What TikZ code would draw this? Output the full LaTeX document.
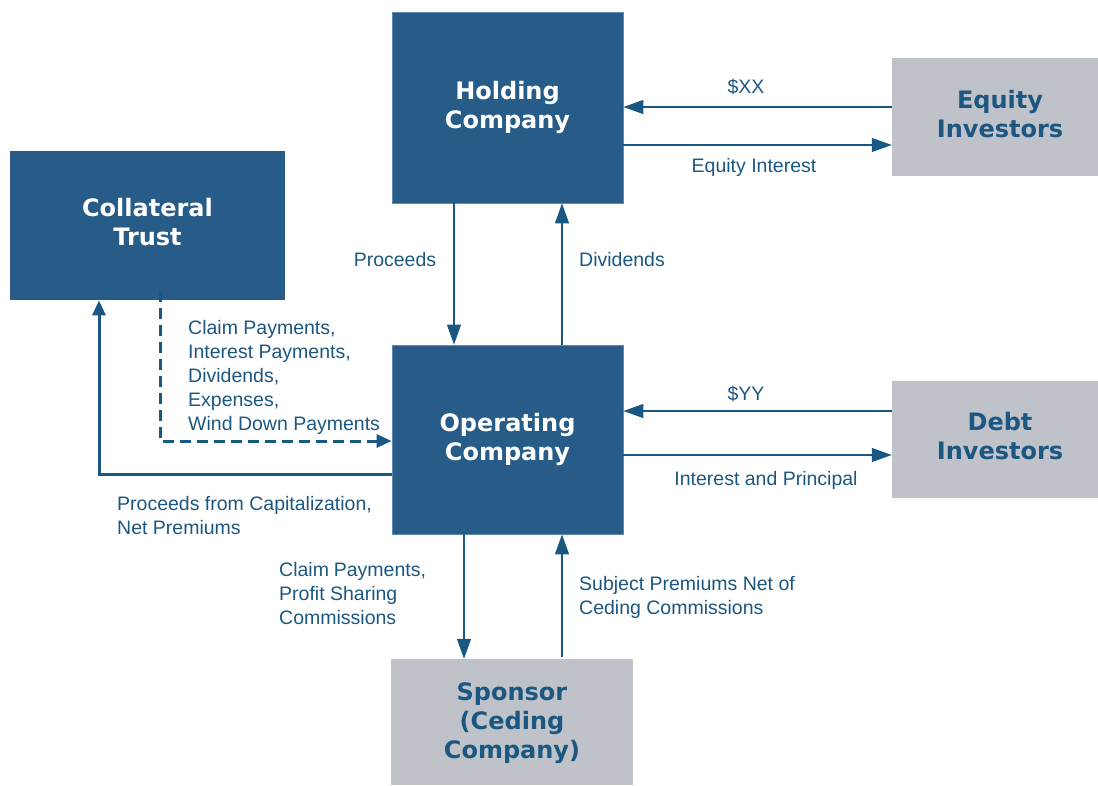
\documentclass[tikz,border=0pt]{standalone}
\usepackage{fontspec}
\setmainfont{Liberation Sans}
\newfontfamily\boxfont{DejaVu Sans}
\usetikzlibrary{arrows.meta}
\definecolor{boxblue}{RGB}{38,92,135}
\definecolor{boxedge}{RGB}{95,138,176}
\definecolor{boxgray}{RGB}{191,194,201}
\definecolor{linkblue}{RGB}{24,88,130}
\definecolor{txtblue}{RGB}{27,87,129}
\tikzset{
  boxtext/.style={font=\boxfont\bfseries\fontsize{24}{29}\selectfont, align=center, inner sep=0pt, text depth=0pt},
  bluebox/.style={rectangle, fill=boxblue, draw=boxedge, line width=0.8pt, text=white, boxtext},
  graybox/.style={rectangle, fill=boxgray, draw=none, text=txtblue, boxtext},
  lbl/.style={text=txtblue, font=\fontsize{19.5}{24}\selectfont, align=left, inner sep=0pt},
  arr/.style={draw=linkblue, line width=1.2pt, -{Triangle[length=20pt,width=14pt]}},
  thickarr/.style={draw=linkblue, line width=3pt, -{Triangle[length=15pt,width=13pt]}},
}
\begin{document}
\begin{tikzpicture}[x=1pt,y=1pt]
\useasboundingbox (0,0) rectangle (1098,-785);
% boxes
\node[bluebox, minimum width=231pt, minimum height=191pt] (hc) at (507.5,-107.5) {};
\node[graybox, minimum width=206pt, minimum height=118pt] (eq) at (995,-117) {};
\node[bluebox, draw=none, minimum width=275pt, minimum height=149pt] (ct) at (147.5,-225.5) {};
\node[bluebox, minimum width=231pt, minimum height=189pt] (oc) at (507.5,-439.5) {};
\node[graybox, minimum width=206pt, minimum height=117pt] (db) at (995,-439.5) {};
\node[graybox, minimum width=242pt, minimum height=126pt] (sp) at (512,-722) {};
% box texts
\node[boxtext, text=white] (hct) at (507.5,-105) {Holding\\Company};
\node[boxtext, text=txtblue] (eqt) at (1000,-114) {Equity\\Investors};
\node[boxtext, text=white] (ctt) at (147.5,-222) {Collateral\\Trust};
\node[boxtext, text=white] (oct) at (507.5,-437) {Operating\\Company};
\node[boxtext, text=txtblue] (dbt) at (1000,-436) {Debt\\Investors};
\node[boxtext, text=txtblue] (spt) at (512,-721) {Sponsor\\(Ceding\\Company)};
% connectors
\draw[arr] (eq.west |- 0,-107) -- (hc.east |- 0,-107);
\draw[arr] (hc.east |- 0,-145) -- (eq.west |- 0,-145);
\draw[arr] (hc.south -| 454,0) -- (oc.north -| 454,0);
\draw[arr] (oc.north -| 562,0) -- (hc.south -| 562,0);
\draw[arr] (db.west |- 0,-411) -- (oc.east |- 0,-411);
\draw[arr] (oc.east |- 0,-455) -- (db.west |- 0,-455);
\draw[arr] (oc.south -| 464,0) -- (sp.north -| 464,0);
\draw[arr] (sp.north -| 562,0) ++(0,2) -- (oc.south -| 562,0);
\draw[thickarr] (oc.west |- 0,-474) -- (99,-474) -- (ct.south -| 99,0);
\draw[thickarr, dash pattern=on 11pt off 6pt] (ct.south -| 160,0) ++(0,9) -- (160,-441) -- (oc.west |- 0,-441);
% labels
\node[lbl] (lxx) at (746,-87) {\$XX};
\node[lbl] (lei) at (754,-167) {Equity Interest};
\node[lbl] (lpr) at (395,-260) {Proceeds};
\node[lbl] (ldv) at (622,-260) {Dividends};
\node[lbl] (lyy) at (746,-394) {\$YY};
\node[lbl] (lip) at (766,-480) {Interest and Principal};
\node[lbl, anchor=west] (lcl) at (188,-377) {Claim Payments,\\Interest Payments,\\Dividends,\\Expenses,\\Wind Down Payments};
\node[lbl, anchor=west] (lpc) at (117,-516) {Proceeds from Capitalization,\\Net Premiums};
\node[lbl, anchor=west] (lcp) at (279,-594) {Claim\hspace{0.25em}Payments,\\Profit Sharing\\Commissions};
\node[lbl, anchor=west] (lsp) at (579,-597) {Subject Premiums Net of\\Ceding Commissions};
\end{tikzpicture}
\end{document}
